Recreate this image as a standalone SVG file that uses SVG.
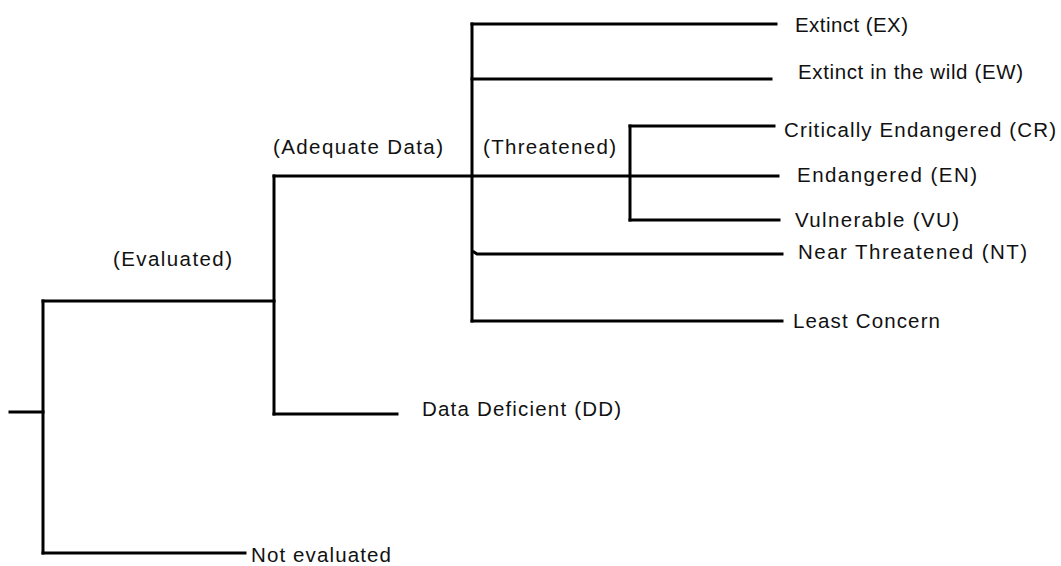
<svg xmlns="http://www.w3.org/2000/svg" width="1061" height="566" viewBox="0 0 1061 566">
<style>
.c{fill:none;stroke:#000;stroke-width:3;stroke-linecap:square;stroke-linejoin:miter}
text{font-family:"Liberation Sans",Arial,sans-serif;font-size:20.5px;fill:#111}
</style>
<rect width="1061" height="566" fill="#fff"/>
<g id="connectors">
<path class="c" d="M10,412H43"/>
<path class="c" d="M43,301V553"/>
<path class="c" d="M43,301H274"/>
<path class="c" d="M43,553H245"/>
<path class="c" d="M274,176V414"/>
<path class="c" d="M274,176H778"/>
<path class="c" d="M274,414H397"/>
<path class="c" d="M472,24V321"/>
<path class="c" d="M472,24H776"/>
<path class="c" d="M472,79H771"/>
<path class="c" d="M630,126V220"/>
<path class="c" d="M630,126H774"/>
<path class="c" d="M630,220H779"/>
<path class="c" d="M474,252L477,254H782"/>
<path class="c" d="M472,321H782"/>
</g>
<g id="evaluated"><text x="113" y="266" textLength="119" lengthAdjust="spacing">(Evaluated)</text></g>
<g id="adequate"><text x="273" y="154" textLength="170" lengthAdjust="spacing">(Adequate Data)</text></g>
<g id="threatened"><text x="483" y="154" textLength="133" lengthAdjust="spacing">(Threatened)</text></g>
<g id="ex"><text x="795" y="32" textLength="113" lengthAdjust="spacing">Extinct (EX)</text></g>
<g id="ew"><text x="798" y="79" textLength="225" lengthAdjust="spacing">Extinct in the wild (EW)</text></g>
<g id="cr"><text x="784" y="137" textLength="272" lengthAdjust="spacing">Critically Endangered (CR)</text></g>
<g id="en"><text x="797" y="182" textLength="180" lengthAdjust="spacing">Endangered (EN)</text></g>
<g id="vu"><text x="795" y="227" textLength="164" lengthAdjust="spacing">Vulnerable (VU)</text></g>
<g id="nt"><text x="798" y="259" textLength="229" lengthAdjust="spacing">Near Threatened (NT)</text></g>
<g id="lc"><text x="793" y="328" textLength="147" lengthAdjust="spacing">Least Concern</text></g>
<g id="dd"><text x="422" y="416" textLength="199" lengthAdjust="spacing">Data Deficient (DD)</text></g>
<g id="ne"><text x="251" y="562" textLength="140" lengthAdjust="spacing">Not evaluated</text></g>
</svg>
